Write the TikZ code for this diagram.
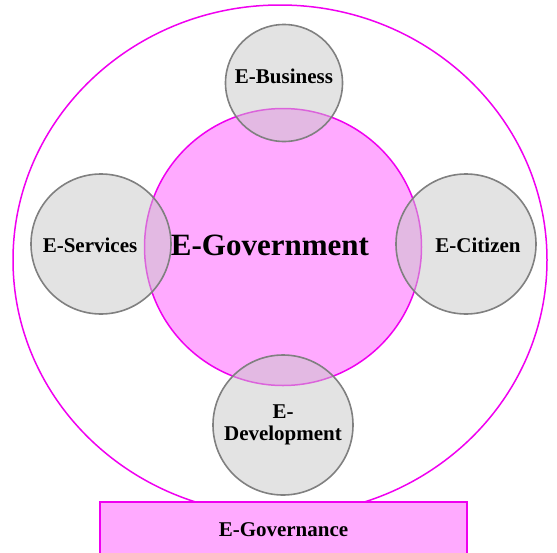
\documentclass[tikz,border=0pt]{standalone}
\usepackage{fontspec}
\setmainfont{Liberation Serif}
\usepackage{tikz}
\definecolor{govpink}{RGB}{255,170,255}
\definecolor{govline}{RGB}{240,0,240}
\definecolor{satgray}{RGB}{200,200,200}

\begin{document}
\begin{tikzpicture}[x=1pt,y=-1pt,
   every node/.style={font=\bfseries\fontsize{21}{22}\selectfont,text=black},
   gov/.style={circle,draw=govline,fill=govpink,line width=1.5pt,inner sep=0pt},
   sat/.style={circle,draw=black!50,fill=satgray,fill opacity=0.5,text opacity=1,
      line width=1.6pt,inner sep=0pt,align=center}]
\useasboundingbox (0,0) rectangle (557,552);
\clip (0,0) rectangle (557,552);
\draw[govline,line width=1.5pt] (280,260) ellipse [x radius=267,y radius=255];
\node[gov,minimum size=277pt] (egov) at (283,247) {};
\node[font=\bfseries\fontsize{31}{32}\selectfont] (tgov) at (270,245) {E-Government};
\node[sat,minimum size=117pt] (ebus) at (284,83) {};
\node[sat,minimum size=140pt] (eserv) at (101,244) {};
\node[sat,minimum size=140pt] (ecit) at (466,244) {};
\node[sat,minimum size=140pt] (edev) at (283,425) {E-\\Development};
\node (tbus) at (284,76) {E-Business};
\node (tserv) at (90,245) {E-Services};
\node (tcit) at (478,245) {E-Citizen};
\node[draw=govline,fill=govpink,line width=1.5pt,minimum width=367pt,minimum height=56pt]
   (egovern) at (283.5,530) {E-Governance};
\end{tikzpicture}
\end{document}
